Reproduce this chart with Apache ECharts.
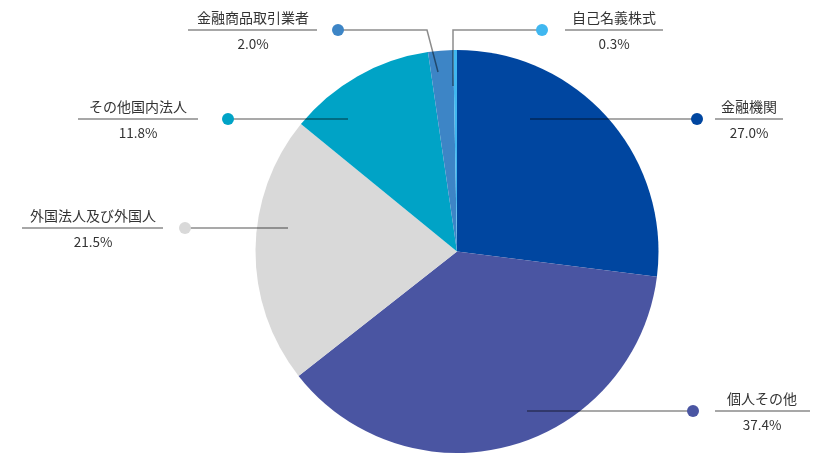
<!DOCTYPE html>
<html><head><meta charset="utf-8">
<script src="https://cdn.jsdelivr.net/npm/echarts@6/dist/echarts.min.js"></script>
<style>html,body{margin:0;padding:0;background:#fff}#c{width:832px;height:466px}</style>
</head><body><div id="c"></div>
<script>
const categories = ['金融機関', '個人その他', '外国法人及び外国人', 'その他国内法人', '金融商品取引業者', '自己名義株式'];
const shares = [27.0, 37.4, 21.5, 11.8, 2.0, 0.3];
const colors = ['#0046A0', '#4A55A2', '#D9D9D9', '#00A3C6', '#3D85C6', '#40B7F0'];

// annotation layout: label centre x / underline y, underline extent, leader line points
const labelPos = [[749, 119], [762, 411], [93, 228], [138, 119], [253, 30], [614, 30]];
const underlineX = [[715, 783], [715, 810], [22, 163], [78, 198], [188, 317], [565, 663]];
const leaderPts = [
  [[530, 119], [697, 119]],
  [[527, 411], [693, 411]],
  [[288, 228], [185, 228]],
  [[348, 119], [228, 119]],
  [[438, 72], [427, 30], [338, 30]],
  [[453, 86], [453, 30], [542, 30]]
];

const chart = echarts.init(document.getElementById('c'));
const font = '"Noto Sans CJK JP", "Noto Sans", sans-serif';
const graphics = [];
leaderPts.forEach((p, i) => {
  graphics.push({
    type: 'polyline', z: 100,
    shape: { points: p },
    style: { stroke: 'rgba(0,0,0,0.45)', lineWidth: 1.5, fill: null }
  });
  graphics.push({
    type: 'line', z: 100,
    shape: { x1: underlineX[i][0], y1: labelPos[i][1], x2: underlineX[i][1], y2: labelPos[i][1] },
    style: { stroke: '#8a8a8a', lineWidth: 1.5 }
  });
  const e = p[p.length - 1];
  graphics.push({
    type: 'circle', z: 101,
    shape: { cx: e[0], cy: e[1], r: 6 },
    style: { fill: colors[i] }
  });
});

chart.setOption({
  animation: false,
  backgroundColor: '#fff',
  color: colors,
  graphic: graphics,
  series: [{
    type: 'pie',
    center: [457, 251.5],
    radius: [0, 201.5],
    startAngle: 90,
    clockwise: true,
    avoidLabelOverlap: false,
    data: categories.map((n, i) => ({ name: n, value: shares[i] })),
    label: {
      show: true,
      position: 'outside',
      fontFamily: font,
      formatter: p => `{t|${p.name}}\n{v|${p.value.toFixed(1)}%}`,
      rich: {
        t: { fontFamily: font, fontSize: 14, color: '#333', lineHeight: 24, align: 'center' },
        v: { fontFamily: font, fontSize: 13.5, color: '#333', lineHeight: 28, align: 'center' }
      }
    },
    labelLine: { show: false },
    labelLayout: params => {
      const i = params.dataIndex;
      return {
        x: labelPos[i][0], y: labelPos[i][1] - 24,
        align: 'center', verticalAlign: 'top'
      };
    }
  }]
});
</script></body></html>
